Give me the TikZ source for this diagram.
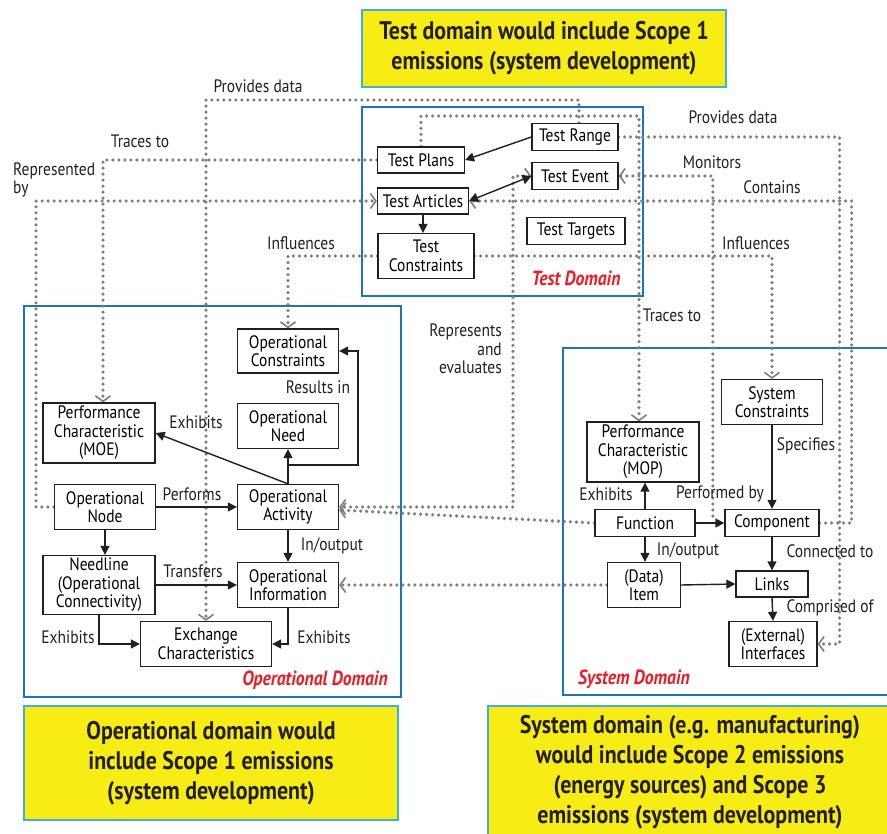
\documentclass[tikz,border=0pt]{standalone}
\usepackage{fontspec}
\setmainfont{PT Sans}[FakeStretch=0.86]
\usetikzlibrary{arrows.meta,backgrounds}
\definecolor{DomBlue}{HTML}{1B75BB}
\definecolor{NoteYellow}{HTML}{F7EC13}
\definecolor{NoteEdge}{HTML}{3DAEE0}
\definecolor{DomRed}{HTML}{ED1C24}
\definecolor{LinkGray}{HTML}{7E7E7E}
\definecolor{InkBlack}{HTML}{231F20}

\begin{document}
\begin{tikzpicture}[x=1pt,y=-1pt,
    tri/.tip={Triangle[length=9pt,width=9pt]},
    chev/.tip={Straight Barb[length=5.5pt,width=15pt,line width=1.6pt]},
    box/.style={draw=InkBlack,line width=1.3pt,fill=white,align=center,
                inner sep=1pt,font=\fontsize{18}{18.5}\selectfont},
    lab/.style={font=\fontsize{18}{18.5}\selectfont,text=InkBlack,inner sep=0pt},
    note/.style={draw=NoteEdge,line width=1.2pt,fill=NoteYellow,align=center,
                 text=InkBlack,font=\fontsize{25.5}{30}\selectfont\bfseries},
    domframe/.style={draw=DomBlue,line width=2.6pt},
    domlab/.style={font=\fontsize{20.5}{20}\selectfont\bfseries\itshape,text=DomRed,inner sep=0pt},
    arr/.style={-tri,line width=1.4pt,draw=InkBlack},
    arrboth/.style={arr,tri-tri},
    dotline/.style={draw=LinkGray,line width=3.6pt,line cap=round,dash pattern=on 0pt off 6pt},
    dotarr/.style={dotline,-chev},
    dotboth/.style={dotline,chev-chev}]
  \useasboundingbox (0,0) rectangle (887,834);

  % yellow notes
  \node[note,minimum width=364,minimum height=77] (tnote) at (544,48.5)
    {Test domain would include Scope 1\\emissions (system development)};
  \node[note,minimum width=374,minimum height=114] (onote) at (211,763)
    {Operational domain would\\include Scope 1 emissions\\(system development)};
  \node[note,minimum width=404,minimum height=132] (snote) at (690,772)
    {System domain (e.g. manufacturing)\\would include Scope 2 emissions\\(energy sources) and Scope 3\\emissions (system development)};

  % test domain
  \node[box,minimum width=86,minimum height=27] (range)    at (575,137) {Test Range};
  \node[box,minimum width=87,minimum height=26] (plans)    at (421,160) {Test Plans};
  \node[box,minimum width=86,minimum height=27] (event)    at (575,176) {Test Event};
  \node[box,minimum width=91,minimum height=26] (articles) at (423,201) {Test Articles};
  \node[box,minimum width=98,minimum height=27] (targets)  at (576,231) {Test Targets};
  \node[box,minimum width=96,minimum height=45] (tcons)    at (426,256) {Test\\Constraints};
  \node[domlab] (tdlab) at (576,278) {Test Domain};

  % operational domain
  \node[box,minimum width=101,minimum height=44] (ocons)    at (288,351) {Operational\\Constraints};
  \node[box,minimum width=112,minimum height=60] (moe)      at (99,433)  {Performance\\Characteristic\\(MOE)};
  \node[box,minimum width=101,minimum height=45] (oneed)    at (288,426) {Operational\\Need};
  \node[box,minimum width=101,minimum height=45] (onode)    at (105,507) {Operational\\Node};
  \node[box,minimum width=101,minimum height=45] (oact)     at (288,507) {Operational\\Activity};
  \node[box,minimum width=112,minimum height=59] (needline) at (99,585)  {Needline\\(Operational\\Connectivity)};
  \node[box,minimum width=101,minimum height=45] (oinfo)    at (288,585) {Operational\\Information};
  \node[box,minimum width=131,minimum height=45] (exch)     at (206,644) {Exchange\\Characteristics};
  \node[domlab] (odlab) at (315,680) {Operational Domain};

  % system domain
  \node[box,minimum width=112,minimum height=60] (mop)   at (643,452) {Performance\\Characteristic\\(MOP)};
  \node[box,minimum width=101,minimum height=45] (scons) at (772,402) {System\\Constraints};
  \node[box,minimum width=100,minimum height=27] (func)  at (645,523) {Function};
  \node[box,minimum width=94,minimum height=27]  (comp)  at (772,523) {Component};
  \node[box,minimum width=73,minimum height=45]  (item)  at (644,585) {(Data)\\Item};
  \node[box,minimum width=72,minimum height=26]  (links) at (772,584) {Links};
  \node[box,minimum width=88,minimum height=45]  (iface) at (773,644) {(External)\\Interfaces};
  \node[domlab] (sdlab) at (634,679) {System Domain};

  % solid relations
  \draw[arr] (range.west) -- (plans.east);
  \draw[arrboth] (articles.east) -- (event.west);
  \draw[arr] (articles.south) -- (articles.south |- tcons.north);
  \draw[arr] (oact.north) -- (oneed.south);
  \draw[arr] (oact.north) -- (moe.east);
  \draw[arr] (oact.north) |- (358,465) |- (ocons.east);
  \draw[arr] (onode.east) -- (oact.west);
  \draw[arr] (onode.south) -- (onode.south |- needline.north);
  \draw[arr] (needline.east) -- (oinfo.west);
  \draw[arr] (oact.south) -- (oinfo.north);
  \draw[arr] (needline.south) |- (exch.west);
  \draw[arr] (oinfo.south) |- (exch.east);
  \draw[arr] (func.north) -- (func.north |- mop.south);
  \draw[arr] (func.east) -- coordinate[pos=0.6] (fcmid) (comp.west);
  \draw[arr] (scons.south) -- (comp.north);
  \draw[arr] (func.south) -- (func.south |- item.north);
  \draw[arr] (item.east) -- (links.west);
  \draw[arr] (comp.south) -- (links.north);
  \draw[arr] (links.south) -- (iface.north);

  % labels
  \node[lab] (lpd1)  at (258,86)  {Provides data};
  \node[lab] (ltr1)  at (140,141) {Traces to};
  \node[lab,anchor=west,align=left] (lrep) at (13,180) {Represented\\by};
  \node[lab] (linf1) at (301,243) {Influences};
  \node[lab] (linf2) at (756,243) {Influences};
  \node[lab] (lpd2)  at (733,117) {Provides data};
  \node[lab] (lmon)  at (712,162) {Monitors};
  \node[lab] (lcon)  at (772,187) {Contains};
  \node[lab] (ltr2)  at (672,315) {Traces to};
  \node[lab,anchor=east,align=right] (lrepev) at (502,349) {Represents\\and\\evaluates};
  \node[lab] (lexh1) at (196,422) {Exhibits};
  \node[lab] (lres)  at (318,387) {Results in};
  \node[lab] (lperf) at (192,494) {Performs};
  \node[lab] (lio1)  at (332,546) {In/output};
  \node[lab] (ltrans) at (193,571) {Transfers};
  \node[lab] (lexh2) at (68,637)  {Exhibits};
  \node[lab] (lexh3) at (324,637) {Exhibits};
  \node[lab] (lexh4) at (606,494) {Exhibits};
  \node[lab] (lpby)  at (720,494) {Performed by};
  \node[lab] (lspec) at (806,446) {Specifies};
  \node[lab] (lio2)  at (688,551) {In/output};
  \node[lab] (lconn) at (830,551) {Connected to};
  \node[lab] (lcomp) at (830,608) {Comprised of};

  \begin{scope}[on background layer]
    \fill[white] (0,0) rectangle (887,834);
    \draw[domframe] (362,107) rectangle (643,296);
    \draw[domframe] (24,306) rectangle (401,697);
    \draw[domframe] (563,348) rectangle (900,695);
    % dotted cross-domain links
    \draw[dotarr] ([xshift=4pt]range.north) |- (exch.north |- 0,100) -- (exch.north);
    \draw[dotarr] (plans.west) -| ([xshift=4pt]moe.north);
    \draw[dotarr] (onode.west) -| (36,0 |- articles.west) -- (articles.west);
    \draw[dotarr] (tcons.west) -| (ocons.north);
    \draw[dotarr] (tcons.east) -| (scons.north);
    \draw[dotarr] (plans.north) |- (639,116) -- (639,116 |- mop.north);
    \draw[dotarr] ([yshift=7pt]fcmid) |- (event.east);
    \draw[dotarr] (comp.east) -- ++(32,0) |- (articles.east);
    \draw[dotarr] (range.east) -| ([xshift=22pt]iface.east) -- (iface.east);
    \draw[dotboth] (event.west) -| (513,0 |- oact.east) -- (oact.east);
    \draw[dotarr] (func.west) -- ([yshift=-3pt]oact.east);
    \draw[dotarr] (item.west) -- (oinfo.east);
  \end{scope}
\end{tikzpicture}
\end{document}
